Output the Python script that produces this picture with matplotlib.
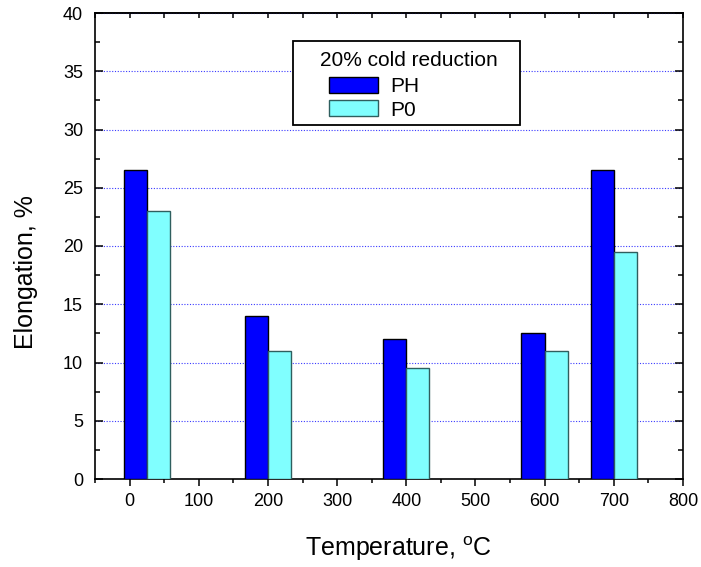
import matplotlib
matplotlib.use("Agg")
import matplotlib.pyplot as plt
from matplotlib.patches import Rectangle, Patch
from matplotlib.ticker import MultipleLocator, FixedLocator

plt.rcParams['font.family'] = ['Liberation Sans', 'DejaVu Sans']

temperatures = [25, 200, 400, 600, 700]
ph_values = [26.5, 14, 12, 12.5, 26.5]
p0_values = [23, 11, 9.5, 11, 19.5]
series_names = ["PH", "P0"]
legend_title = "20% cold reduction"
x_ticks = [0, 100, 200, 300, 400, 500, 600, 700, 800]
y_ticks = [0, 5, 10, 15, 20, 25, 30, 35, 40]

W, H = 701, 567
fig = plt.figure(figsize=(W / 100, H / 100), dpi=100)
L, R, T, B = 95, 683, 13, 479
ax = fig.add_axes([L / W, 1 - B / H, (R - L) / W, (B - T) / H])

bw = 33.5
ax.bar(temperatures, ph_values, width=-bw, align='edge', color='#0000ff',
       edgecolor='black', linewidth=1.0, zorder=3)
ax.bar(temperatures, p0_values, width=bw, align='edge', color='#80ffff',
       edgecolor='#2f5f5f', linewidth=1.0, zorder=3)

ax.set_xlim(-50, 800)
ax.set_ylim(0, 40)
ax.xaxis.set_major_locator(FixedLocator(x_ticks))
ax.xaxis.set_minor_locator(MultipleLocator(50))
ax.set_yticks(y_ticks)
ax.yaxis.set_minor_locator(MultipleLocator(2.5))

ax.tick_params(axis='x', which='major', direction='out', length=5, width=1.1,
               top=False, labelsize=13, pad=4.8)
ax.tick_params(axis='x', which='minor', direction='out', length=3, width=1.1,
               top=False)
ax.tick_params(axis='y', which='major', direction='in', length=5.5, width=1.1,
               left=True, right=True, labelsize=13, pad=8.6)
ax.tick_params(axis='y', which='minor', direction='in', length=3.6, width=1.1,
               left=True, right=True)

sec = ax.secondary_xaxis('top')
sec.xaxis.set_major_locator(MultipleLocator(50))
sec.tick_params(axis='x', which='major', direction='in', length=3.6, width=1.1,
                labeltop=False)
sec.spines['top'].set_linewidth(1.2)

for s in ax.spines.values():
    s.set_linewidth(1.2)

ax.yaxis.grid(True, which='major', linestyle=(0, (1, 1.5)), color='#3a3aff',
              linewidth=0.8)
ax.set_axisbelow(True)

# legend box
lx0 = (293 - L) / (R - L)
ly0 = (B - 125) / (B - T)
lw_ = (520 - 293) / (R - L)
lh_ = (125 - 41) / (B - T)
ax.add_patch(Rectangle((lx0, ly0), lw_, lh_, transform=ax.transAxes,
                       facecolor='white', edgecolor='black', linewidth=1.3,
                       zorder=5))
ax.text((409 - L) / (R - L), (B - 61) / (B - T), legend_title,
        transform=ax.transAxes, ha='center', va='center', fontsize=15,
        zorder=6)
handles = [Patch(facecolor='#0000ff', edgecolor='black', linewidth=1.0),
           Patch(facecolor='#80ffff', edgecolor='#2f5f5f', linewidth=1.0)]
leg = ax.legend(handles, series_names, loc='upper left',
                bbox_to_anchor=((329 - L) / (R - L), (B - 77) / (B - T)),
                frameon=False, fontsize=15, handlelength=2.35,
                handleheight=0.8, handletextpad=0.6, labelspacing=0.2,
                borderpad=0, borderaxespad=0)
leg.set_zorder(7)

fig.text(26 / W, 1 - 272 / H, "Elongation, %", rotation=90, ha='center',
         va='center', fontsize=18)
fig.text(398 / W, 1 - 549 / H, "Temperature, $^\\mathregular{o}$C",
         ha='center', va='center', fontsize=18)

fig.savefig("out.png", dpi=100)
